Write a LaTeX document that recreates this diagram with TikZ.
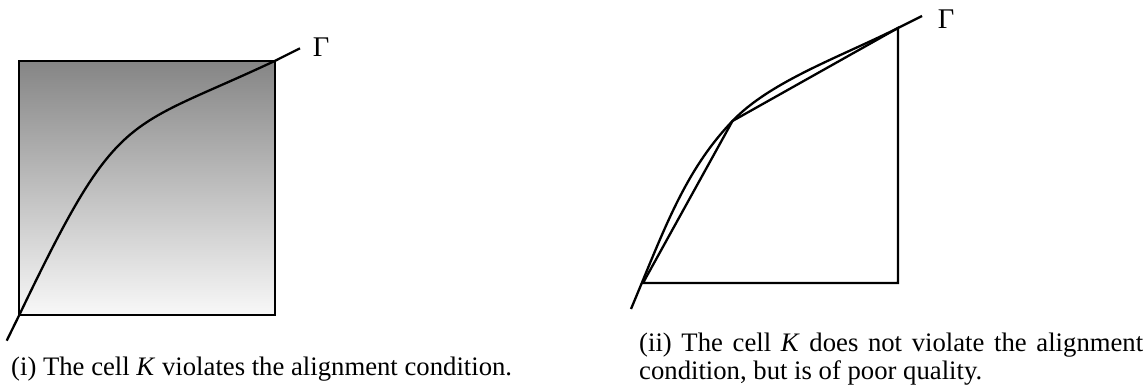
\documentclass[tikz,border=0pt]{standalone}
\usepackage{fontspec}
\setmainfont{Liberation Serif}
\definecolor{topgray}{HTML}{858585}
\definecolor{botgray}{HTML}{F8F8F8}
\begin{document}
\begin{tikzpicture}[x=1pt,y=1pt,
  edge/.style={line width=2.3pt, line join=miter},
  curvestyle/.style={line width=2.3pt, line join=round},
  captionstyle/.style={inner sep=0pt, font=\fontsize{26.7}{27.6}\selectfont},
  gammastyle/.style={inner sep=0pt, font=\fontsize{28.5}{30}\selectfont}]
\useasboundingbox (0,0) rectangle (1148,390);
% ---------- left panel ----------
\coordinate (sqsw) at (19.3,75);
\coordinate (sqne) at (275.3,329.3);
\shade[top color=topgray, bottom color=botgray] (sqsw) rectangle (sqne);
\draw[edge] (sqsw) rectangle (sqne);
\coordinate (l0) at (6.7,49.3);
\coordinate (l11) at (300,341.7);
\draw[curvestyle] (l0) -- (sqsw) .. controls (118.7,282.5) and (123.3,257.9) .. (sqne) -- (l11);
\node[gammastyle] (gammaL) at (321,342.5) {Γ};
\node[captionstyle, anchor=base west] (capL) at (11,14) {(i) The cell \textit{K} violates the alignment condition.};
% ---------- right panel ----------
\coordinate (A) at (643,107);
\coordinate (B) at (898,107);
\coordinate (C) at (898,362);
\coordinate (M) at (732.5,269);
\draw[edge] (A) -- (B) -- (C) -- (M) -- cycle;
\coordinate (r0) at (631,81);
\coordinate (r7) at (922,374);
\draw[curvestyle] (r0) .. controls (663.9,159.4) and (684.1,218.5) .. (M)
  .. controls (770.5,308.7) and (839.9,332.9) .. (C) -- (r7);
\node[gammastyle] (gammaR) at (946,371) {Γ};
\node[captionstyle, anchor=base west, text width=504pt, align=justify] (capR) at (639,38) {\hyphenpenalty=10000 (ii) The cell \textit{K} does not violate the alignment condition, but is of poor quality.};
\end{tikzpicture}
\end{document}
